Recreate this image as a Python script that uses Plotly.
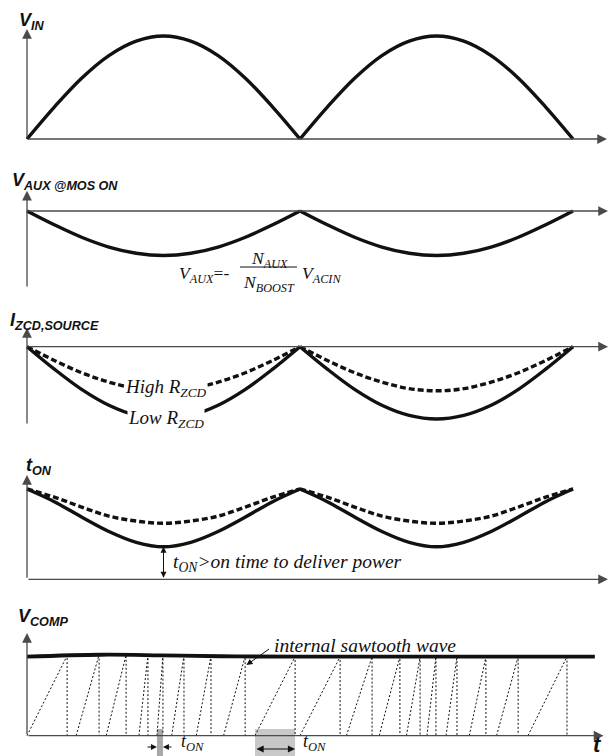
import numpy as np
import plotly.graph_objects as go

W, H = 611, 756

# ---------------------------------------------------------------------------
# Data. Time is measured in half line-cycles: 0 = origin, 1 = first zero
# crossing of the rectified input, 2 = second zero crossing.
# ---------------------------------------------------------------------------
hump_t = [0.0, 0.1, 0.2, 0.3, 0.4, 0.5, 0.6, 0.7, 0.8, 0.9, 1.0]
half_cycles = [0, 1]

vin_hump = [0.0, 0.31, 0.59, 0.81, 0.95, 1.0, 0.95, 0.81, 0.59, 0.31, 0.0]
vaux_hump = [0.0, -0.31, -0.59, -0.81, -0.95, -1.0, -0.95, -0.81, -0.59, -0.31, 0.0]
izcd_low_hump = [0.0, -0.31, -0.59, -0.81, -0.95, -1.0, -0.95, -0.81, -0.59, -0.31, 0.0]
izcd_high_hump = [0.0, -0.19, -0.36, -0.49, -0.58, -0.61, -0.58, -0.49, -0.36, -0.19, 0.0]
ton_low_hump = [1.0, 0.86, 0.69, 0.53, 0.41, 0.36, 0.41, 0.53, 0.69, 0.86, 1.0]
ton_high_hump = [1.0, 0.91, 0.80, 0.70, 0.645, 0.62, 0.645, 0.70, 0.80, 0.91, 1.0]

# V_COMP level (slowly varying error-amplifier output)
vcomp_t = [0.0, 0.27, 0.49, 0.71, 1.0, 2.08]
vcomp_v = [1.0, 1.025, 1.018, 1.006, 1.0, 1.0]

# internal sawtooth: each ramp starts at ramp_start and ends (meets V_COMP) at ramp_end
ramp_start = [0.00, 0.18, 0.29, 0.41, 0.476, 0.53, 0.62, 0.72, 0.835,
              1.00, 1.17, 1.29, 1.39, 1.465, 1.535, 1.62, 1.72, 1.835]
ramp_end = [0.147, 0.264, 0.363, 0.443, 0.498, 0.575, 0.674, 0.799, 0.982,
            1.147, 1.264, 1.366, 1.44, 1.498, 1.575, 1.681, 1.799, 1.978]
short_ton_idx = 4   # narrow on-time marked near the input peak
long_ton_idx = 8    # wide on-time marked near the zero crossing

# ---------------------------------------------------------------------------
# Layout helpers (pixel geometry of the stacked panels)
# ---------------------------------------------------------------------------
X0_PX, X1_PX = 27.0, 300.0


def t_at(px):
    return (px - X0_PX) / (X1_PX - X0_PX)


def paper_x(px):
    return px / W


def paper_y(py):
    return 1 - py / H


# band_top, band_bottom, (value, pixel), (value, pixel), y-axis bottom px, y-arrow tip px, x-arrow tip px
panels = [
    (0, 150, (0, 139.0), (1, 36.0), 139.0, 29.0, 607.0),
    (150, 300, (0, 211.0), (-1, 255.5), 288.0, 190.7, 608.0),
    (300, 440, (0, 346.7), (-1, 419.0), 425.0, 328.0, 608.0),
    (440, 600, (0, 579.3), (1, 489.0), 579.3, 475.0, 608.0),
    (600, 756, (0, 735.7), (1, 656.7), 735.7, 633.0, 603.5),
]
suffix = ["", "2", "3", "4", "5"]


def val_at(i, py):
    (v0, p0), (v1, p1) = panels[i][2], panels[i][3]
    return v0 + (py - p0) * (v1 - v0) / (p1 - p0)


fig = go.Figure()
layout = dict(
    width=W, height=H, margin=dict(l=0, r=0, t=0, b=0),
    paper_bgcolor="white", plot_bgcolor="white", showlegend=False,
)
x_range = [t_at(0), t_at(W)]
for i, p in enumerate(panels):
    s = suffix[i]
    layout["xaxis" + s] = dict(domain=[0, 1], range=x_range, visible=False,
                               anchor="y" + s, fixedrange=True)
    layout["yaxis" + s] = dict(domain=[1 - p[1] / H, 1 - p[0] / H],
                               range=[val_at(i, p[1]), val_at(i, p[0])],
                               visible=False, anchor="x" + s, fixedrange=True)
fig.update_layout(**layout)

BLACK = "#111111"
AXIS = "#4a4a4a"


def add_curve(i, hump, width=3.4, dash="solid"):
    s = suffix[i]
    for k in half_cycles:
        fig.add_trace(go.Scatter(
            x=[t + k for t in hump_t], y=hump, mode="lines",
            line=dict(color=BLACK, width=width, dash=dash, shape="spline"),
            xaxis="x" + s, yaxis="y" + s, hoverinfo="skip"))


add_curve(0, vin_hump)
add_curve(1, vaux_hump)
add_curve(2, izcd_high_hump, dash="6px,3px")
add_curve(2, izcd_low_hump)
add_curve(3, ton_high_hump, dash="6px,3px")
add_curve(3, ton_low_hump)

# V_COMP level
fig.add_trace(go.Scatter(
    x=vcomp_t, y=vcomp_v, mode="lines",
    line=dict(color=BLACK, width=3.8, shape="spline"),
    xaxis="x5", yaxis="y5", hoverinfo="skip"))

# sawtooth: ramp up to V_COMP, then reset straight down
saw_x, saw_y = [], []
for a, b in zip(ramp_start, ramp_end):
    top = float(np.interp(b, vcomp_t, vcomp_v))
    saw_x += [a, b, b, None]
    saw_y += [0, top, 0, None]
fig.add_trace(go.Scatter(
    x=saw_x, y=saw_y, mode="lines",
    line=dict(color=BLACK, width=1, dash="2px,2px"),
    xaxis="x5", yaxis="y5", hoverinfo="skip"))

# shaded on-time windows under the time axis
for idx, col in [(short_ton_idx, "#a8a8a8"), (long_ton_idx, "#c8c8c8")]:
    fig.add_shape(type="rect", xref="x5", yref="y5",
                  x0=ramp_start[idx], x1=ramp_end[idx],
                  y0=val_at(4, 729.0), y1=val_at(4, 756.0),
                  fillcolor=col, line_width=0, layer="below")

annotations = []

# axes with arrow heads
for i, p in enumerate(panels):
    s = suffix[i]
    xr, yr = "x" + s, "y" + s
    annotations.append(dict(
        x=0, y=val_at(i, p[5]), ax=0, ay=val_at(i, p[4]),
        xref=xr, yref=yr, axref=xr, ayref=yr, text="", showarrow=True,
        arrowhead=2, arrowsize=1.5, arrowwidth=1.3, arrowcolor=AXIS))
    annotations.append(dict(
        x=t_at(p[6]), y=0, ax=0, ay=0,
        xref=xr, yref=yr, axref=xr, ayref=yr, text="", showarrow=True,
        arrowhead=2, arrowsize=1.5, arrowwidth=1.3, arrowcolor=AXIS))

SANS = "Liberation Sans, Arial, sans-serif"
SERIF = "Liberation Serif, Times New Roman, serif"


def label(text, px, py, size=17, family=SERIF, xanchor="left", bg=None):
    d = dict(text=text, x=paper_x(px), y=paper_y(py), xref="paper", yref="paper",
             xanchor=xanchor, yanchor="middle", showarrow=False,
             font=dict(family=family, size=size, color=BLACK), borderpad=0)
    if bg:
        d["bgcolor"] = bg
    annotations.append(d)


# panel titles
label("<b><i>V<sub>IN</sub></i></b>", 18, 21, size=18, family=SANS)
label("<b><i>V<sub>AUX @MOS ON</sub></i></b>", 11, 181, size=18, family=SANS)
label("<b><i>I<sub>ZCD,SOURCE</sub></i></b>", 9, 321, size=18, family=SANS)
label("<b><i>t<sub>ON</sub></i></b>", 25, 467, size=18, family=SANS)
label("<b><i>V<sub>COMP</sub></i></b>", 17, 617, size=18, family=SANS)

# V_AUX relation
label("<i>V<sub>AUX</sub></i>=-", 178, 274, size=17.5)
label("<i>N<sub>AUX</sub></i>", 269, 259, size=17.5, xanchor="center")
label("<i>N<sub>BOOST</sub></i>", 269, 284, size=17.5, xanchor="center")
label("<i>V<sub>ACIN</sub></i>", 301, 274, size=17.5)
fig.add_shape(type="line", xref="paper", yref="paper",
              x0=paper_x(240), x1=paper_x(297), y0=paper_y(267), y1=paper_y(267),
              line=dict(color=BLACK, width=1))

# I_ZCD curve labels (they mask the curves behind them)
label("<i>High R<sub>ZCD</sub></i>", 166, 388, size=19, xanchor="center", bg="white")
label("<i>Low R<sub>ZCD</sub></i>", 166, 419, size=19, xanchor="center", bg="white")

# minimum on-time margin
ton_min = min(ton_low_hump)
t_min = hump_t[ton_low_hump.index(ton_min)]
annotations.append(dict(
    x=t_min, y=ton_min, ax=t_min, ay=0, xref="x4", yref="y4", axref="x4", ayref="y4",
    text="", showarrow=True, arrowhead=2, arrowside="end+start",
    arrowsize=1.2, arrowwidth=1, arrowcolor=BLACK))
label("<i>t<sub>ON</sub>>on time to deliver power</i>", 172, 563, size=19.5)

# sawtooth annotations
label("<i>internal sawtooth wave</i>", 273, 645, size=19.5)
annotations.append(dict(
    x=t_at(246.5), y=val_at(4, 665.0), ax=24, ay=-17, xref="x5", yref="y5",
    text="", showarrow=True, arrowhead=2, arrowsize=1.2, arrowwidth=1, arrowcolor=BLACK))

y_arrow = val_at(4, 747.0)
annotations.append(dict(
    x=ramp_start[short_ton_idx], y=y_arrow, ax=-11, ay=0, xref="x5", yref="y5",
    text="", showarrow=True, arrowhead=2, arrowsize=1.2, arrowwidth=1, arrowcolor=BLACK))
annotations.append(dict(
    x=ramp_end[short_ton_idx], y=y_arrow, ax=10, ay=0, xref="x5", yref="y5",
    text="", showarrow=True, arrowhead=2, arrowsize=1.2, arrowwidth=1, arrowcolor=BLACK))
label("<i>t<sub>ON</sub></i>", 180, 742.5, size=18)

y_arrow2 = val_at(4, 749.0)
annotations.append(dict(
    x=ramp_end[long_ton_idx], y=y_arrow2, ax=ramp_start[long_ton_idx], ay=y_arrow2,
    xref="x5", yref="y5", axref="x5", ayref="y5", text="", showarrow=True,
    arrowhead=2, arrowside="end+start", arrowsize=1.2, arrowwidth=1.2, arrowcolor=BLACK))
label("<i>t<sub>ON</sub></i>", 302, 742.5, size=18)

label("<b><i>t</i></b>", 597, 744, size=22, family=SANS, xanchor="center")

fig.update_layout(annotations=annotations)
fig.write_html("out.html")
